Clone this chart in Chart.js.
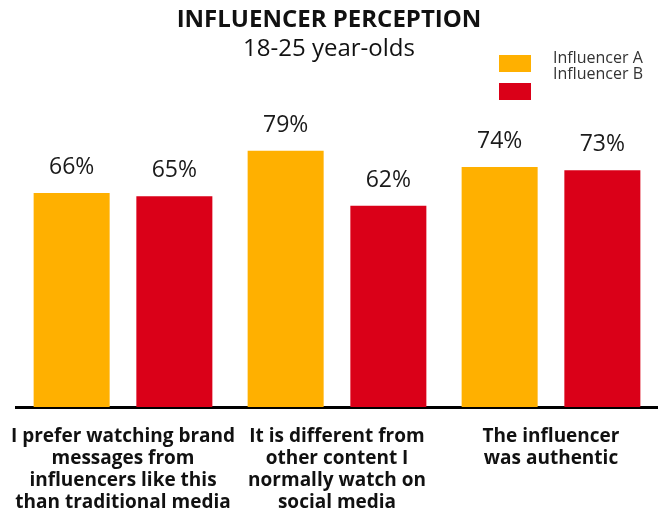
<!DOCTYPE html>
<html>
<head>
<meta charset="utf-8">
<script src="https://cdn.jsdelivr.net/npm/chart.js@4"></script>
<style>
  html, body { margin: 0; padding: 0; background: #fff; }
  #wrap { width: 658px; height: 514px; }
</style>
</head>
<body>
<div id="wrap"><canvas id="myChart"></canvas></div>
<script>
  const categories = [
    ['I prefer watching brand', 'messages from', 'influencers like this', 'than traditional media'],
    ['It is different from', 'other content I', 'normally watch on', 'social media'],
    ['The influencer', 'was authentic']
  ];
  const seriesNames = ['Influencer A', 'Influencer B'];
  const influencerA = [66, 79, 74];
  const influencerB = [65, 62, 73];

  const cores = ['#FFB000', '#DA0018'];

  // rótulos de porcentagem acima das barras
  const rotulosPlugin = {
    id: 'rotulos',
    afterDatasetsDraw(chart) {
      const ctx = chart.ctx;
      ctx.save();
      ctx.font = '23px "Open Sans"';
      ctx.fillStyle = '#1a1a1a';
      ctx.textAlign = 'center';
      ctx.textBaseline = 'alphabetic';
      chart.data.datasets.forEach((ds, i) => {
        chart.getDatasetMeta(i).data.forEach((bar, j) => {
          ctx.fillText(ds.data[j] + '%', bar.x, bar.y - 19);
        });
      });
      ctx.restore();
    }
  };

  // legenda no canto superior direito
  const legendaPlugin = {
    id: 'legenda',
    afterDraw(chart) {
      const ctx = chart.ctx;
      ctx.save();
      chart.data.datasets.forEach((ds, i) => {
        ctx.fillStyle = ds.backgroundColor;
        ctx.fillRect(499, 55 + i * 28, 32, 17);
        ctx.fillStyle = '#333';
        ctx.font = '16px "Open Sans"';
        ctx.textBaseline = 'middle';
        ctx.fillText(ds.label, 553, 58 + i * 16);
      });
      ctx.restore();
    }
  };

  const ctx = document.getElementById('myChart').getContext('2d');
  const myChart = new Chart(ctx, {
    type: 'bar',
    data: {
      labels: categories,
      datasets: [
        { label: seriesNames[0], data: influencerA, backgroundColor: cores[0] },
        { label: seriesNames[1], data: influencerB, backgroundColor: cores[1] }
      ]
    },
    options: {
      responsive: true,
      maintainAspectRatio: false,
      animation: false,
      layout: { padding: { left: 0, right: 0, top: 6, bottom: 0 } },
      datasets: {
        bar: { categoryPercentage: 0.96, barPercentage: 0.74 }
      },
      plugins: {
        legend: { display: false },
        tooltip: { enabled: false },
        title: {
          display: true,
          text: 'INFLUENCER PERCEPTION',
          color: '#111',
          font: { family: '"Open Sans"', size: 24, weight: 'bold' },
          padding: { top: 0, bottom: 0 }
        },
        subtitle: {
          display: true,
          text: '18-25 year-olds',
          color: '#111',
          font: { family: '"Open Sans"', size: 24 },
          padding: { top: 0, bottom: 19 }
        }
      },
      scales: {
        x: {
          grid: { display: false, drawTicks: false },
          border: { color: '#000', width: 3 },
          afterFit: scale => {
            scale.height = 107;
            scale.paddingLeft = 16;
            scale.paddingRight = 0;
          },
          ticks: {
            color: '#111',
            padding: 19,
            maxRotation: 0,
            autoSkip: false,
            font: { family: '"Open Sans"', size: 19, weight: 'bold', lineHeight: 1.15 }
          }
        },
        y: {
          display: false,
          min: 0,
          max: 100
        }
      }
    },
    plugins: [rotulosPlugin, legendaPlugin]
  });
</script>
</body>
</html>
